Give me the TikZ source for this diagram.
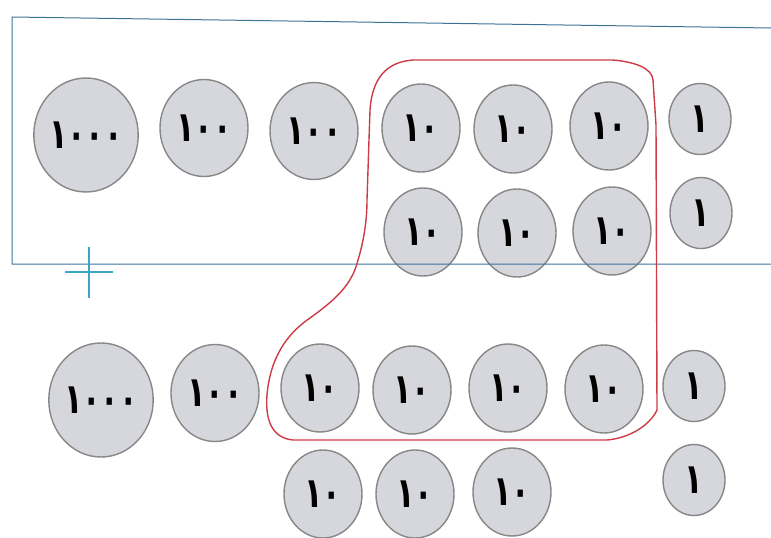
\documentclass[tikz,border=0pt]{standalone}
\usepackage{fontspec}
\usepackage{graphicx}
\newfontfamily\arabicfont[Script=Arabic]{DejaVu Sans}
\usetikzlibrary{shapes.geometric}
\definecolor{coinfill}{RGB}{214,215,220}
\definecolor{coinedge}{RGB}{135,135,135}
\definecolor{frameblue}{RGB}{60,115,150}
\definecolor{crossblue}{RGB}{60,165,195}
\definecolor{loopred}{RGB}{205,60,70}
\newcommand\coinlbl[1]{\scalebox{0.72}[1]{#1}}
\tikzset{
  coin/.style={ellipse, draw=coinedge, fill=coinfill, line width=1.4pt, inner sep=0pt,
    font=\arabicfont\bfseries\fontsize{42}{42}\selectfont},
  big/.style={coin, minimum width=102pt, minimum height=114pt},
  hund/.style={coin, minimum width=88pt, minimum height=97pt},
  ten/.style={coin, minimum width=78pt, minimum height=88pt},
  one/.style={coin, minimum width=62pt, minimum height=71pt},
  frame/.style={draw=frameblue, line width=1pt},
  loop/.style={draw=loopred, line width=1.4pt},
}
\begin{document}
\begin{tikzpicture}[x=1pt,y=-1pt]
\useasboundingbox (0,0) rectangle (771,538);
% row 1
\node[big]  (a1) at (86,135)  {\coinlbl{١٠٠٠}};
\node[hund] (a2) at (204,128) {\coinlbl{١٠٠}};
\node[hund] (a3) at (314,131) {\coinlbl{١٠٠}};
\node[ten]  (a4) at (421,128) {\coinlbl{١٠}};
\node[ten]  (a5) at (513,129) {\coinlbl{١٠}};
\node[ten]  (a6) at (609,126) {\coinlbl{١٠}};
\node[one]  (a7) at (700,119) {\coinlbl{١}};
% row 2
\node[ten]  (b1) at (423,232) {\coinlbl{١٠}};
\node[ten]  (b2) at (517,233) {\coinlbl{١٠}};
\node[ten]  (b3) at (612,231) {\coinlbl{١٠}};
\node[one]  (b4) at (701,213) {\coinlbl{١}};
% row 3
\node[big]  (c1) at (101,400) {\coinlbl{١٠٠٠}};
\node[hund] (c2) at (215,393) {\coinlbl{١٠٠}};
\node[ten]  (c3) at (320,388) {\coinlbl{١٠}};
\node[ten]  (c4) at (412,390) {\coinlbl{١٠}};
\node[ten]  (c5) at (508,388) {\coinlbl{١٠}};
\node[ten]  (c6) at (604,389) {\coinlbl{١٠}};
\node[one]  (c7) at (694,386) {\coinlbl{١}};
% row 4
\node[ten]  (d1) at (323,494) {\coinlbl{١٠}};
\node[ten]  (d2) at (415,494) {\coinlbl{١٠}};
\node[ten]  (d3) at (512,492) {\coinlbl{١٠}};
\node[one]  (d4) at (694,480) {\coinlbl{١}};
% frame
\draw[frame] (771,28) -- (12,17) -- (12,264) -- (771,264);
% cross
\draw[draw=crossblue, line width=2pt] (89,247) -- (89,298) (65,272) -- (113,272);
% red loop
\draw[loop] (413,60) -- (613,60) .. controls (635,62) and (652,68) .. (653,80)
  -- (656,125) -- (657,410) .. controls (650,425) and (630,438) .. (607,440)
  -- (293,440) .. controls (272,438) and (265,420) .. (267,395)
  .. controls (270,360) and (285,335) .. (310,318)
  .. controls (335,300) and (352,285) .. (358,260)
  .. controls (364,240) and (367,220) .. (367,200)
  -- (370,110) .. controls (372,80) and (385,62) .. (413,60) -- cycle;
\end{tikzpicture}
\end{document}
